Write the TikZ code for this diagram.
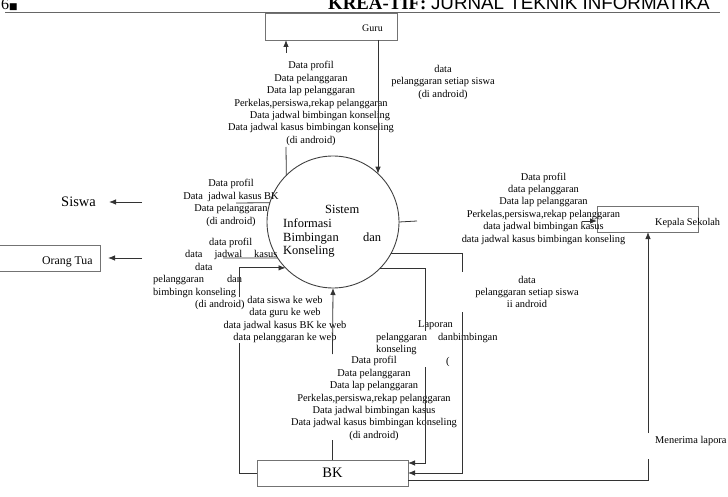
\documentclass[tikz,border=0pt]{standalone}
\usepackage{fontspec}
\setmainfont{Liberation Serif}
\newfontfamily\hdrsans{Liberation Sans}
\newfontfamily\symfont{DejaVu Sans}
\usetikzlibrary{arrows.meta}
\begin{document}
\begin{tikzpicture}[x=1pt,y=-1pt,
  conn/.style={draw=black!80, line width=0.8pt},
  arr/.style={conn, -{Latex[length=7pt,width=5.5pt]}},
  boxst/.style={draw=black!55, line width=0.9pt, inner sep=0, outer sep=0},
  lbl/.style={font=\fontsize{10.4}{12.4}\selectfont, inner sep=0, align=center},
]
\useasboundingbox (0,0) rectangle (728,497);
\clip (0,0) rectangle (728,497);

% header
\node[anchor=base west, inner sep=0, font=\fontsize{16}{18}\selectfont] (pg) at (1,10) {6{\symfont\fontsize{9}{10}\selectfont■}};
\node[anchor=base west, inner sep=0, font=\fontsize{18.8}{20}\selectfont] (hdr) at (328,10) {\textbf{KREA-TIF:} {\hdrsans JURNAL TEKNIK INFORMATIKA}};
\draw[black!60, line width=1.2pt] (5,12.5) -- (720,12.5);

% main shapes
\node[draw=black!75, line width=0.9pt, circle, minimum size=132pt, inner sep=0, outer sep=0] (sib) at (333,222) {};
\node[font=\fontsize{12.5}{13.8}\selectfont, text width=98pt, align=left, inner sep=0, anchor=west] (sibtxt) at (283,231.5) {\hspace*{42pt}Sistem\\Informasi\\Bimbingan\hfill dan\\Konseling};

\node[boxst, minimum width=132pt, minimum height=27pt] (guru) at (331,26.5) {};
\node[anchor=base west, inner sep=0, font=\fontsize{10}{12}\selectfont] (gurutxt) at (362,31.5) {Guru};

\node[boxst, minimum width=101pt, minimum height=26pt] (ortu) at (49.5,258) {};
\node[anchor=base west, inner sep=0, font=\fontsize{11.8}{14}\selectfont] (ortutxt) at (42,264) {Orang Tua};

\node[anchor=west, inner sep=0, font=\fontsize{14.5}{16}\selectfont] (siswa) at (61,202) {Siswa};

\node[boxst, minimum width=101pt, minimum height=26pt] (ks) at (647.5,219) {};
\node[anchor=base west, inner sep=0, font=\fontsize{10.3}{12}\selectfont] (kstxt) at (655,225.5) {Kepala Sekolah};

\node[boxst, minimum width=151pt, minimum height=26pt, font=\fontsize{14.5}{16}\selectfont] (bk) at (332.5,473) {BK};

% labels
\node[lbl] (lguru1) at (311,103.5) {Data profil\\Data pelanggaran\\Data lap pelanggaran\\Perkelas,persiswa,rekap pelanggaran\\\hspace*{18pt}Data jadwal bimbingan konseling\\Data jadwal kasus bimbingan konseling\\(di android)};
\node[lbl] (lguru2) at (443,82.5) {data\\pelanggaran setiap siswa\\(di android)};
\node[lbl] (lsiswa) at (231,203) {Data profil\\Data\ \ jadwal kasus BK\\Data pelanggaran\\(di android)};
\node[lbl, align=left, anchor=west] (lortu) at (153,274) {\hspace*{56pt}data profil\\\hspace*{32pt}data\hspace{12pt}jadwal\hspace{12pt}kasus\\\hspace*{42pt}data\\pelanggaran\hspace{23pt}dan\\bimbingn konseling\\\hspace*{42pt}(di android)};
\node[lbl] (lweb) at (285,319.5) {data siswa ke web\\data guru ke web\\data jadwal kasus BK ke web\\data pelanggaran ke web};
\node[lbl] (lbk) at (374,398.5) {Data profil\\Data pelanggaran\\Data lap pelanggaran\\Perkelas,persiswa,rekap pelanggaran\\Data jadwal bimbingan kasus\\Data jadwal kasus bimbingan konseling\\(di android)};
\node[lbl, align=left, anchor=west] (llap) at (376,344) {\hspace*{42pt}Laporan\\pelanggaran\hspace{11pt}danbimbingan\\konseling\\\hspace*{70pt}(};
\node[lbl] (lks1) at (543.5,208.5) {Data profil\\data pelanggaran\\Data lap pelanggaran\\Perkelas,persiswa,rekap pelanggaran\\data jadwal bimbingan kasus\\data jadwal kasus bimbingan konseling};
\node[lbl] (lks2) at (527,292) {data\\pelanggaran setiap siswa\\ii android};
\node[lbl, anchor=base west] (lmen) at (655,443.5) {Menerima lapora};

% A: circle -> Guru
\coordinate (g1) at (286,147);
\coordinate (g2) at (286,53);
\draw[conn] (sib.135.4) -- (g1);
\draw[arr] (g2) -- (g2 |- guru.south);
% B: Guru -> circle
\draw[arr] (guru.south -| sib.47) -- (sib.47);
% C: circle -> Siswa
\coordinate (sw1) at (236,203);
\coordinate (sw2) at (142,202);
\coordinate (swtip) at (109,202);
\draw[conn] (sib.163.3) -- (sw1);
\draw[arr] (sw2) -- (swtip);
% D: circle -> Orang Tua
\coordinate (ot1) at (223,258);
\coordinate (ot2) at (142,258);
\draw[conn] (sib.213.1) -- (ot1);
\draw[arr] (ot2) -- ([xshift=8pt]ortu.east);
% E: BK -> circle, left loop
\coordinate (lp1) at (239,343);
\coordinate (lp2) at (239,297);
\draw[conn] (bk.west) -| (lp1);
\draw[arr] (lp2) |- (sib.224.2);
% F: BK -> circle, bottom
\coordinate (bt1) at (332.5,440);
\coordinate (bt2) at (332.5,354);
\draw[conn] (bk.north) -- (bt1);
\draw[arr] (bt2) -- (sib.south);
% G: circle -> BK via x=462
\coordinate (ra1) at (462,272);
\coordinate (ra2) at (462,312);
\draw[conn] (sib.332) -| (ra1);
\draw[arr] (ra2) |- (bk.east);
% H: circle -> BK via x=425
\coordinate (rb1) at (425,331);
\coordinate (rb2) at (425,367);
\draw[conn] (sib.315.8) -| (rb1);
\draw[arr] (rb2) |- ([yshift=10pt]bk.east);
% I: circle -> Kepala Sekolah
\coordinate (ka1) at (417,221);
\coordinate (ka2) at (582,221);
\draw[conn] (sib.0.9) -- (ka1);
\draw[arr] (ka2) -- (ka2 -| ks.west);
% J: BK -> Kepala Sekolah
\coordinate (kb1) at (648,459);
\coordinate (kb2) at (648,433);
\draw[conn] ([yshift=-7pt]bk.east) -| (kb1);
\draw[arr] (kb2) -- (kb2 |- ks.south);
\end{tikzpicture}
\end{document}
